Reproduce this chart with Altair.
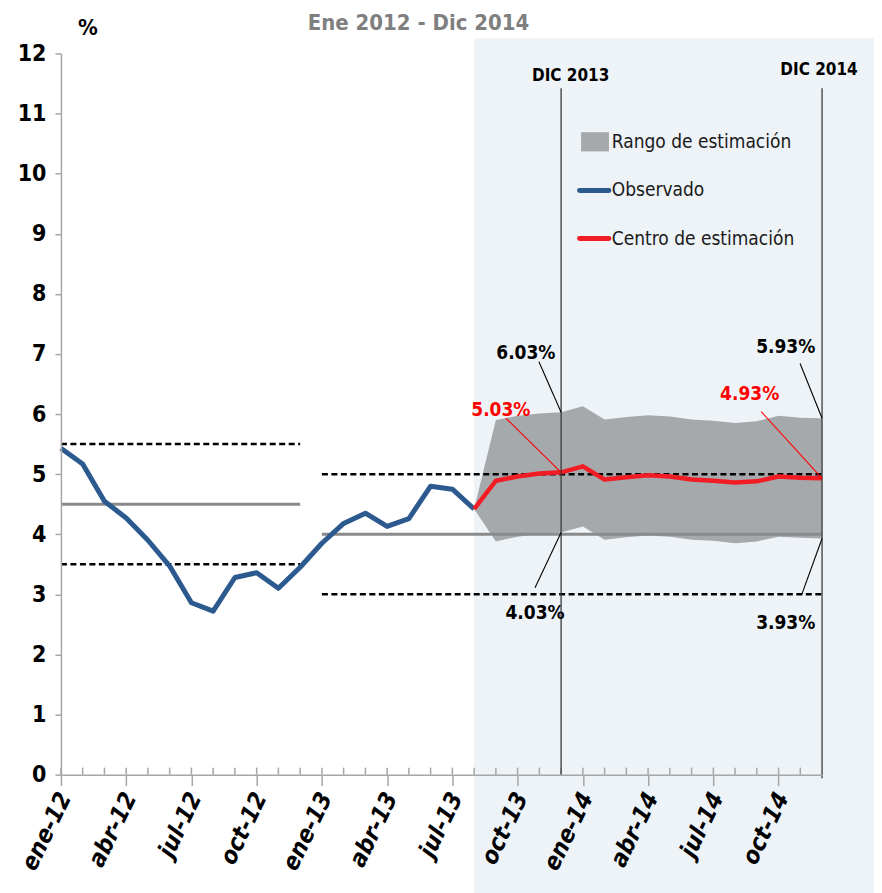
import altair as alt
import pandas as pd

# ---------------- data ----------------
month_labels = [f"{m}-{y}" for y in ("12", "13", "14") for m in
                ("ene", "feb", "mar", "abr", "may", "jun", "jul", "ago", "sep", "oct", "nov", "dic")]
tick_months = list(range(0, 35, 3))
tick_labels = [month_labels[i] for i in tick_months]

observed = [5.43, 5.17, 4.55, 4.27, 3.90, 3.47, 2.86, 2.72, 3.28, 3.36, 3.10, 3.45,
            3.85, 4.18, 4.35, 4.13, 4.26, 4.80, 4.75, 4.42]            # ene-12 .. ago-13
forecast_start = 19                                                    # ago-13
center = [4.42, 4.89, 4.96, 5.01, 5.03, 5.13, 4.91, 4.95, 4.98, 4.96, 4.91, 4.89,
          4.86, 4.88, 4.96, 4.94, 4.93]                                # ago-13 .. dic-14
upper = [4.42, 5.90, 5.97, 6.01, 6.03, 6.13, 5.91, 5.95, 5.98, 5.96, 5.91, 5.89,
         5.85, 5.88, 5.97, 5.94, 5.93]
lower = [4.42, 3.88, 3.96, 4.01, 4.03, 4.13, 3.91, 3.95, 3.98, 3.96, 3.91, 3.89,
         3.85, 3.88, 3.96, 3.94, 3.93]

# target (meta) and tolerance band segments: start month, end month, value
target_start = [0, 12]
target_end = [11, 35]
target_value = [4.5, 4.0]
tolerance = 1.0

# vertical reference months
ref_months = [23, 35]
ref_labels = ["DIC 2013", "DIC 2014"]

# annotations
ann_text = ["6.03%", "5.03%", "4.03%", "5.93%", "4.93%", "3.93%"]
ann_color = ["black", "red", "black", "black", "red", "black"]
ann_target = [(23, 6.03), (23, 5.03), (23, 4.03), (35, 5.93), (35, 4.93), (35, 3.93)]
ann_label_pos = [(21.38, 7.02), (20.23, 6.07), (21.80, 2.69), (33.33, 7.11), (31.67, 6.33), (33.33, 2.53)]
ann_leader_start = [(21.98, 6.87), (20.46, 5.93), (21.80, 3.11), (33.99, 6.84), (32.20, 6.04), (34.06, 2.99)]

legend_labels = ["Rango de estimación", "Observado", "Centro de estimación"]

# ---------------- styles ----------------
W, H = 762, 722
NARROW = "DejaVu Sans Condensed, Liberation Sans Narrow, sans-serif"
BLUE = "#2C5A8F"
RED = "#F21C24"
BAND = "#A6A9AC"
BG = "#EEF3F8"
GRAYLINE = "#8A8A8A"
AXISGRAY = "#A6A6A6"

xscale = alt.Scale(domain=[0, 35], nice=False, zero=False)
yscale = alt.Scale(domain=[0, 12], nice=False)

label_expr = "[" + ",".join(f"'{t}'" for t in tick_labels) + "][datum.value/3]"

x_axis = alt.Axis(values=tick_months, labelExpr=label_expr, labelAngle=296,
                  labelAlign="right", labelBaseline="middle", labelFont=NARROW,
                  labelFontStyle="italic", labelFontWeight="bold", labelFontSize=24,
                  labelColor="black", tickSize=11, tickColor=AXISGRAY, tickWidth=1.5,
                  domainColor=AXISGRAY, domainWidth=1.5, grid=False, title=None,
                  labelPadding=8, labelOffset=4, zindex=1, labelOverlap=False,
                  labelFlush=False)
y_axis = alt.Axis(values=list(range(13)), labelFont=NARROW, labelFontWeight="bold",
                  labelFontSize=23, labelColor="black", labelPadding=9, tickSize=6,
                  tickColor=AXISGRAY, tickWidth=1.5, domainColor=AXISGRAY, domainWidth=1.5,
                  grid=False, title=None, zindex=1, labelBaseline="middle")


def X(f):
    return alt.X(f, type="quantitative", scale=xscale, axis=x_axis)


def Y(f):
    return alt.Y(f, type="quantitative", scale=yscale, axis=y_axis)


# ---------------- tables ----------------
obs_df = pd.DataFrame({"m": list(range(len(observed))), "v": observed})
fc_m = list(range(forecast_start, forecast_start + len(center)))
fc_df = pd.DataFrame({"m": fc_m, "c": center, "hi": upper, "lo": lower})

seg_rows = []
for s, e, t in zip(target_start, target_end, target_value):
    seg_rows.append({"m0": s, "m1": e, "v": t, "kind": "meta"})
    seg_rows.append({"m0": s, "m1": e, "v": t + tolerance, "kind": "tol"})
    seg_rows.append({"m0": s, "m1": e, "v": t - tolerance, "kind": "tol"})
seg_df = pd.DataFrame(seg_rows)

ref_df = pd.DataFrame({"m": ref_months, "lab": ref_labels,
                       "top": [11.42, 11.42], "bot": [0, -0.06],
                       "lm": [23.44, 34.86], "lv": [11.63, 11.72]})

ann_df = pd.DataFrame({
    "text": ann_text, "color": ann_color,
    "tm": [p[0] for p in ann_target], "tv": [p[1] for p in ann_target],
    "lm": [p[0] for p in ann_label_pos], "lv": [p[1] for p in ann_label_pos],
    "sm": [p[0] for p in ann_leader_start], "sv": [p[1] for p in ann_leader_start],
})

minor_df = pd.DataFrame({"m": list(range(0, 35))})
bg_df = pd.DataFrame({"m": [forecast_start]})

leg_box = pd.DataFrame({"m0": [23.92], "m1": [25.2], "v0": [10.37], "v1": [10.69]})
leg_lines = pd.DataFrame({"m0": [23.85, 23.85], "m1": [25.2, 25.2], "v": [9.72, 8.92],
                          "color": [BLUE, RED]})
leg_text = pd.DataFrame({"m": [25.33] * 3, "v": [10.53, 9.72, 8.92], "t": legend_labels})

# ---------------- layers ----------------
background = alt.Chart(bg_df).mark_rect(color=BG).encode(
    x=X("m"), x2=alt.value(W + 60), y=alt.value(-15), y2=alt.value(H + 125))

axis_holder = alt.Chart(obs_df).mark_point(opacity=0).encode(x=X("m"), y=Y("v"))

minor_ticks = alt.Chart(minor_df).mark_rule(color=AXISGRAY, strokeWidth=1.5).encode(
    x=X("m"), y=alt.value(H - 7), y2=alt.value(H))

band = alt.Chart(fc_df).mark_area(color=BAND, opacity=1).encode(
    x=X("m"), y=Y("lo"), y2="hi")

meta_lines = alt.Chart(seg_df).transform_filter("datum.kind == 'meta'").mark_rule(
    color=GRAYLINE, strokeWidth=3).encode(x=X("m0"), x2="m1", y=Y("v"))
tol_lines = alt.Chart(seg_df).transform_filter("datum.kind == 'tol'").mark_rule(
    color="black", strokeWidth=2.5, strokeDash=[6, 3.5]).encode(x=X("m0"), x2="m1", y=Y("v"))

obs_line = alt.Chart(obs_df).mark_line(color=BLUE, strokeWidth=5, strokeJoin="round").encode(
    x=X("m"), y=Y("v"))
fc_line = alt.Chart(fc_df).mark_line(color=RED, strokeWidth=4.5, strokeJoin="round").encode(
    x=X("m"), y=Y("c"))

ref_lines = alt.Chart(ref_df).mark_rule(color="#3A3A3A", strokeWidth=1.3).encode(
    x=X("m"), y=Y("top"), y2="bot")
ref_text = alt.Chart(ref_df).mark_text(font=NARROW, fontWeight="bold", fontSize=17,
                                       color="black", baseline="middle").encode(
    x=X("lm"), y=Y("lv"), text="lab")

leaders = alt.Chart(ann_df).mark_rule(strokeWidth=1.1).encode(
    x=X("sm"), y=Y("sv"), x2="tm", y2="tv", color=alt.Color("color:N", scale=None))
ann_labels = alt.Chart(ann_df).mark_text(font=NARROW, fontWeight="bold", fontSize=19,
                                         baseline="middle").encode(
    x=X("lm"), y=Y("lv"), text="text", color=alt.Color("color:N", scale=None))

legend_box = alt.Chart(leg_box).mark_rect(color=BAND).encode(
    x=X("m0"), x2="m1", y=Y("v0"), y2="v1")
legend_lines = alt.Chart(leg_lines).mark_rule(strokeWidth=5, strokeCap="round").encode(
    x=X("m0"), x2="m1", y=Y("v"), color=alt.Color("color:N", scale=None))
legend_text = alt.Chart(leg_text).mark_text(font=NARROW, fontSize=19, align="left",
                                            baseline="middle", color="#1A1A1A").encode(
    x=X("m"), y=Y("v"), text="t")

title = alt.Chart(bg_df).mark_text(text="Ene 2012 - Dic 2014", font=NARROW, fontWeight="bold",
                                   fontSize=22, color="#7F7F7F", baseline="alphabetic").encode(
    x=alt.value(358), y=alt.value(-23))
pct = alt.Chart(bg_df).mark_text(text="%", font=NARROW, fontWeight="bold", fontSize=22,
                                 color="black", baseline="alphabetic").encode(
    x=alt.value(27), y=alt.value(-18))

chart = alt.layer(
    background, axis_holder, minor_ticks, band, meta_lines, tol_lines, obs_line, fc_line,
    ref_lines, ref_text, leaders, ann_labels, legend_box, legend_lines, legend_text, title, pct
).properties(
    width=W, height=H,
    autosize=alt.AutoSizeParams(type="none"),
    padding={"left": 53, "top": 45, "right": 52, "bottom": 122},
    background="white",
).configure_view(strokeWidth=0)

chart.save("out.html", embed_options={"renderer": "svg", "actions": False})
